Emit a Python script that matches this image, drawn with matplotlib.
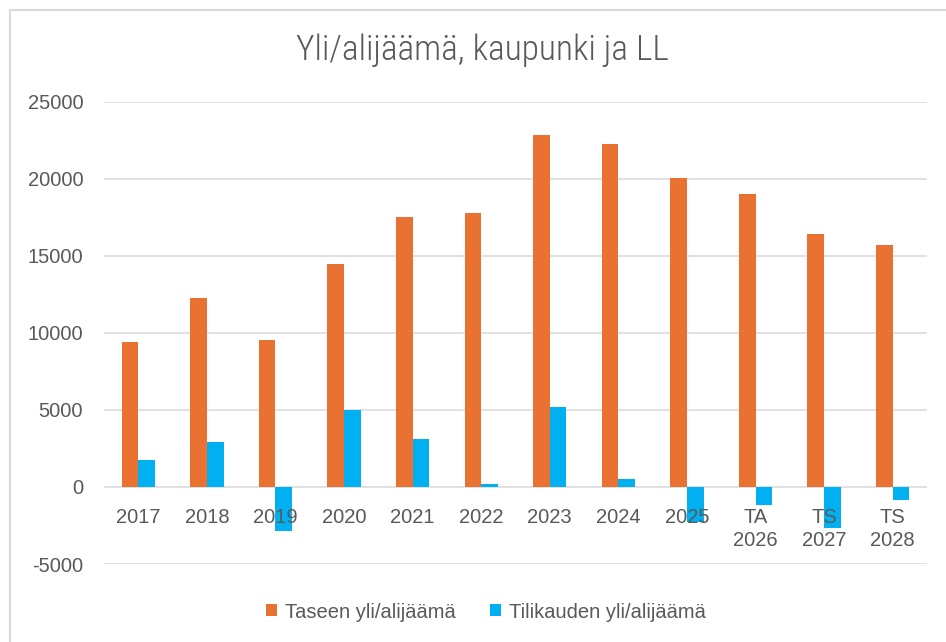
import matplotlib
matplotlib.use("Agg")
import matplotlib.pyplot as plt
from matplotlib import font_manager
import numpy as np
from matplotlib.patches import Rectangle

categories = ["2017", "2018", "2019", "2020", "2021", "2022", "2023", "2024", "2025",
              "TA\n2026", "TS\n2027", "TS\n2028"]
taseen = [9390, 12230, 9540, 14460, 17540, 17780, 22850, 22230, 20060, 19000, 16400, 15690]
tilikauden = [1770, 2910, -2850, 5000, 3130, 220, 5160, 520, -2250, -1140, -2690, -860]
series_names = ["Taseen yli/alijäämä", "Tilikauden yli/alijäämä"]
yticks = [-5000, 0, 5000, 10000, 15000, 20000, 25000]

C_OR = "#E97132"
C_BL = "#00B0F0"
GRID = "#D9D9D9"
TXT = "#595959"

fig = plt.figure(figsize=(9.46, 6.42), dpi=100)
ax = fig.add_axes([104/946, 1-564/642, 823/946, (564-101.6)/642])

x = np.arange(len(categories))
w = 0.243
ax.bar(x - w/2, taseen, w, color=C_OR, label=series_names[0], zorder=2)
ax.bar(x + w/2, tilikauden, w, color=C_BL, label=series_names[1], zorder=2)

ax.set_xlim(-0.5, len(categories) - 0.5)
ax.set_ylim(-5000, 25000)
ax.set_yticks(yticks)
ax.set_yticklabels([str(v) for v in yticks])
for v in yticks:
    ax.axhline(v, color=GRID, linewidth=1.1, zorder=0.5)
for s in ["top", "right", "left", "bottom"]:
    ax.spines[s].set_visible(False)
ax.spines["bottom"].set_position(("data", 0))
ax.set_xticks(x)
ax.set_xticklabels(categories, linespacing=1.3)
ax.tick_params(axis="x", length=0, pad=15, labelsize=14.5, labelcolor=TXT)
ax.tick_params(axis="y", length=0, pad=15, labelsize=14.5, labelcolor=TXT)
for lab in ax.get_xticklabels() + ax.get_yticklabels():
    lab.set_family(["Liberation Sans", "DejaVu Sans"])
ax.xaxis.set_zorder(5)

names = {f.name for f in font_manager.fontManager.ttflist}
cond = [n for n in ["Liberation Sans Narrow", "Roboto Condensed", "Open Sans Condensed",
                    "DejaVu Sans Condensed"] if n in names]
title_fam = (cond[:1] or ["DejaVu Sans"]) + ["DejaVu Sans"]
fig.text(482/946, 1-50/642, "Yli/alijäämä, kaupunki ja LL", ha="center", va="center",
         fontsize=25.5, color=TXT, family=title_fam, stretch="condensed", weight="light")

leg = fig.legend(loc="center", bbox_to_anchor=(486/946, 1-612/642), ncol=2, frameon=False,
                 handlelength=0.55, handleheight=0.55, handletextpad=0.4,
                 columnspacing=1.7, prop={"family": ["Liberation Sans", "DejaVu Sans"], "size": 14.5})
for t in leg.get_texts():
    t.set_color(TXT)

fig.patches.append(Rectangle((10/946, -0.1), 1.2, 1 - 10/642 + 0.1, transform=fig.transFigure,
                             fill=False, edgecolor=GRID, linewidth=1.5, zorder=0))

fig.savefig("out.png", dpi=100)
